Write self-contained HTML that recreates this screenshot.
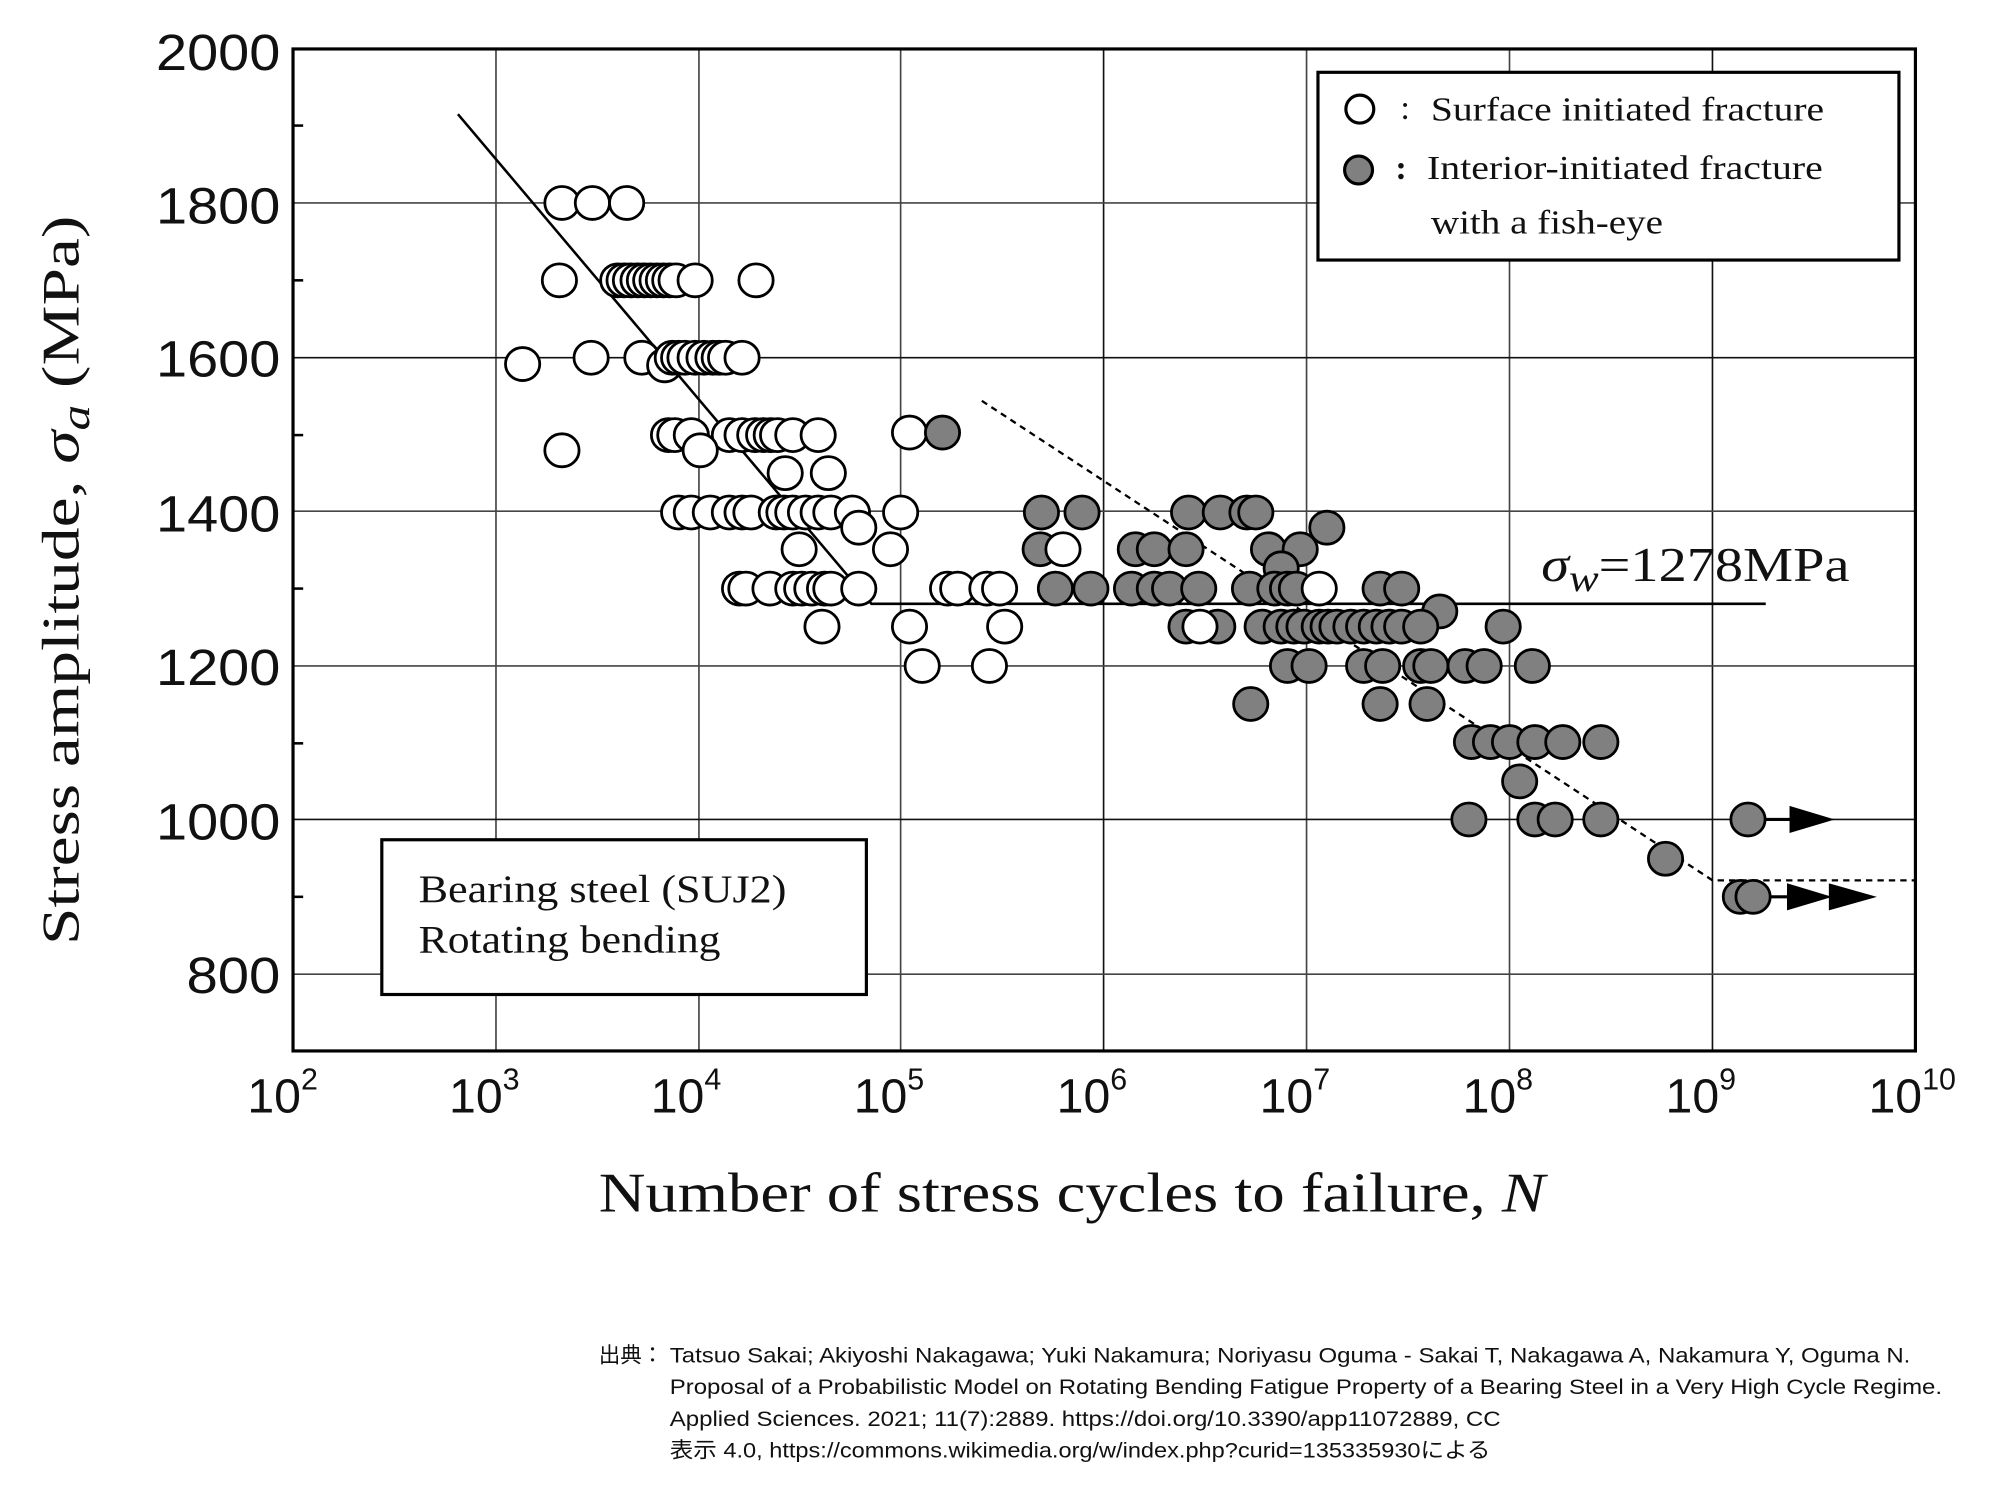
<!DOCTYPE html>
<html><head><meta charset="utf-8"><style>
html,body{margin:0;padding:0;background:#fff;width:1989px;height:1500px;overflow:hidden}
svg{display:block}
.s{font-family:"Liberation Serif",serif}
.a{font-family:"Liberation Sans",sans-serif}
</style></head><body>
<svg width="1989" height="1500" viewBox="0 0 1568 1182.5" xmlns="http://www.w3.org/2000/svg">
<g stroke="#444" stroke-width="1.3">
<line x1="391" y1="38.6" x2="391" y2="828.5"/><line x1="551" y1="38.6" x2="551" y2="828.5"/>
<line x1="710" y1="38.6" x2="710" y2="828.5"/><line x1="870" y1="38.6" x2="870" y2="828.5" stroke="#111"/>
<line x1="1030" y1="38.6" x2="1030" y2="828.5"/><line x1="1190" y1="38.6" x2="1190" y2="828.5"/>
<line x1="1350" y1="38.6" x2="1350" y2="828.5" stroke="#111"/>
<line x1="231" y1="160" x2="1510" y2="160"/><line x1="231" y1="282" x2="1510" y2="282" stroke="#111"/>
<line x1="231" y1="403" x2="1510" y2="403"/><line x1="231" y1="525" x2="1510" y2="525"/>
<line x1="231" y1="646" x2="1510" y2="646" stroke="#111"/><line x1="231" y1="768" x2="1510" y2="768"/>
</g>
<g stroke="#000" stroke-width="2">
<line x1="231" y1="99" x2="239" y2="99"/><line x1="231" y1="221" x2="239" y2="221"/><line x1="231" y1="343" x2="239" y2="343"/><line x1="231" y1="464" x2="239" y2="464"/><line x1="231" y1="586" x2="239" y2="586"/><line x1="231" y1="707" x2="239" y2="707"/>
</g>
<rect x="231" y="38.6" width="1279" height="789.9" fill="none" stroke="#000" stroke-width="2.5"/>
<polyline points="361,90 687,476 1392,476" fill="none" stroke="#000" stroke-width="2"/>
<polyline points="774,316 1350,694 1510,694" fill="none" stroke="#000" stroke-width="1.8" stroke-dasharray="5,4"/>
<g fill="#fff" stroke="#000" stroke-width="2.2">
<ellipse cx="443" cy="160" rx="13.5" ry="13"/><ellipse cx="467" cy="160" rx="13.5" ry="13"/><ellipse cx="494" cy="160" rx="13.5" ry="13"/>
<ellipse cx="441" cy="221" rx="13.5" ry="13"/>
<ellipse cx="487" cy="221" rx="13.5" ry="13"/><ellipse cx="492" cy="221" rx="13.5" ry="13"/><ellipse cx="497" cy="221" rx="13.5" ry="13"/><ellipse cx="503" cy="221" rx="13.5" ry="13"/><ellipse cx="508" cy="221" rx="13.5" ry="13"/><ellipse cx="513" cy="221" rx="13.5" ry="13"/><ellipse cx="518" cy="221" rx="13.5" ry="13"/><ellipse cx="523" cy="221" rx="13.5" ry="13"/><ellipse cx="528" cy="221" rx="13.5" ry="13"/><ellipse cx="533" cy="221" rx="13.5" ry="13"/><ellipse cx="548" cy="221" rx="13.5" ry="13"/>
<ellipse cx="596" cy="221" rx="13.5" ry="13"/>
<ellipse cx="412" cy="287" rx="13.5" ry="13"/><ellipse cx="466" cy="282" rx="13.5" ry="13"/><ellipse cx="506" cy="282" rx="13.5" ry="13"/><ellipse cx="524" cy="288" rx="13.5" ry="13"/>
<ellipse cx="530" cy="282" rx="13.5" ry="13"/><ellipse cx="535" cy="282" rx="13.5" ry="13"/><ellipse cx="540" cy="282" rx="13.5" ry="13"/><ellipse cx="548" cy="282" rx="13.5" ry="13"/><ellipse cx="555" cy="282" rx="13.5" ry="13"/><ellipse cx="562" cy="282" rx="13.5" ry="13"/><ellipse cx="567" cy="282" rx="13.5" ry="13"/><ellipse cx="572" cy="282" rx="13.5" ry="13"/><ellipse cx="585" cy="282" rx="13.5" ry="13"/>
<ellipse cx="527" cy="343" rx="13.5" ry="13"/><ellipse cx="532" cy="343" rx="13.5" ry="13"/><ellipse cx="545" cy="343" rx="13.5" ry="13"/><ellipse cx="575" cy="343" rx="13.5" ry="13"/><ellipse cx="585" cy="343" rx="13.5" ry="13"/><ellipse cx="595" cy="343" rx="13.5" ry="13"/><ellipse cx="602" cy="343" rx="13.5" ry="13"/><ellipse cx="608" cy="343" rx="13.5" ry="13"/><ellipse cx="613" cy="343" rx="13.5" ry="13"/><ellipse cx="625" cy="343" rx="13.5" ry="13"/><ellipse cx="645" cy="343" rx="13.5" ry="13"/><ellipse cx="717" cy="341" rx="13.5" ry="13"/>
<ellipse cx="443" cy="355" rx="13.5" ry="13"/><ellipse cx="552" cy="355" rx="13.5" ry="13"/>
<ellipse cx="619" cy="373" rx="13.5" ry="13"/><ellipse cx="653" cy="373" rx="13.5" ry="13"/>
<ellipse cx="535" cy="404" rx="13.5" ry="13"/><ellipse cx="545" cy="404" rx="13.5" ry="13"/><ellipse cx="560" cy="404" rx="13.5" ry="13"/><ellipse cx="575" cy="404" rx="13.5" ry="13"/><ellipse cx="585" cy="404" rx="13.5" ry="13"/><ellipse cx="592" cy="404" rx="13.5" ry="13"/><ellipse cx="612" cy="404" rx="13.5" ry="13"/><ellipse cx="618" cy="404" rx="13.5" ry="13"/><ellipse cx="625" cy="404" rx="13.5" ry="13"/><ellipse cx="635" cy="404" rx="13.5" ry="13"/><ellipse cx="645" cy="404" rx="13.5" ry="13"/><ellipse cx="655" cy="404" rx="13.5" ry="13"/><ellipse cx="672" cy="404" rx="13.5" ry="13"/><ellipse cx="710" cy="404" rx="13.5" ry="13"/>
<ellipse cx="677" cy="416" rx="13.5" ry="13"/>
<ellipse cx="630" cy="433" rx="13.5" ry="13"/><ellipse cx="702" cy="433" rx="13.5" ry="13"/>
<ellipse cx="583" cy="464" rx="13.5" ry="13"/><ellipse cx="588" cy="464" rx="13.5" ry="13"/><ellipse cx="607" cy="464" rx="13.5" ry="13"/><ellipse cx="625" cy="464" rx="13.5" ry="13"/><ellipse cx="632" cy="464" rx="13.5" ry="13"/><ellipse cx="640" cy="464" rx="13.5" ry="13"/><ellipse cx="650" cy="464" rx="13.5" ry="13"/><ellipse cx="655" cy="464" rx="13.5" ry="13"/><ellipse cx="677" cy="464" rx="13.5" ry="13"/>
<ellipse cx="648" cy="494" rx="13.5" ry="13"/><ellipse cx="717" cy="494" rx="13.5" ry="13"/>
<ellipse cx="727" cy="525" rx="13.5" ry="13"/><ellipse cx="780" cy="525" rx="13.5" ry="13"/>
</g>
<g fill="#808080" stroke="#000" stroke-width="2.2">
<ellipse cx="743" cy="341" rx="13.5" ry="13"/>
<ellipse cx="821" cy="404" rx="13.5" ry="13"/><ellipse cx="853" cy="404" rx="13.5" ry="13"/><ellipse cx="937" cy="404" rx="13.5" ry="13"/><ellipse cx="962" cy="404" rx="13.5" ry="13"/><ellipse cx="983" cy="404" rx="13.5" ry="13"/><ellipse cx="990" cy="404" rx="13.5" ry="13"/>
<ellipse cx="1046" cy="416" rx="13.5" ry="13"/>
<ellipse cx="820" cy="433" rx="13.5" ry="13"/><ellipse cx="895" cy="433" rx="13.5" ry="13"/><ellipse cx="910" cy="433" rx="13.5" ry="13"/><ellipse cx="935" cy="433" rx="13.5" ry="13"/><ellipse cx="1000" cy="433" rx="13.5" ry="13"/><ellipse cx="1025" cy="433" rx="13.5" ry="13"/>
<ellipse cx="1010" cy="448" rx="13.5" ry="13"/>
<ellipse cx="832" cy="464" rx="13.5" ry="13"/><ellipse cx="860" cy="464" rx="13.5" ry="13"/><ellipse cx="892" cy="464" rx="13.5" ry="13"/><ellipse cx="910" cy="464" rx="13.5" ry="13"/><ellipse cx="922" cy="464" rx="13.5" ry="13"/><ellipse cx="945" cy="464" rx="13.5" ry="13"/><ellipse cx="985" cy="464" rx="13.5" ry="13"/><ellipse cx="1005" cy="464" rx="13.5" ry="13"/><ellipse cx="1015" cy="464" rx="13.5" ry="13"/><ellipse cx="1022" cy="464" rx="13.5" ry="13"/><ellipse cx="1088" cy="464" rx="13.5" ry="13"/><ellipse cx="1105" cy="464" rx="13.5" ry="13"/>
<ellipse cx="1135" cy="482" rx="13.5" ry="13"/>
<ellipse cx="935" cy="494" rx="13.5" ry="13"/><ellipse cx="960" cy="494" rx="13.5" ry="13"/><ellipse cx="995" cy="494" rx="13.5" ry="13"/><ellipse cx="1010" cy="494" rx="13.5" ry="13"/><ellipse cx="1020" cy="494" rx="13.5" ry="13"/><ellipse cx="1028" cy="494" rx="13.5" ry="13"/><ellipse cx="1040" cy="494" rx="13.5" ry="13"/><ellipse cx="1047" cy="494" rx="13.5" ry="13"/><ellipse cx="1054" cy="494" rx="13.5" ry="13"/><ellipse cx="1065" cy="494" rx="13.5" ry="13"/><ellipse cx="1075" cy="494" rx="13.5" ry="13"/><ellipse cx="1085" cy="494" rx="13.5" ry="13"/><ellipse cx="1095" cy="494" rx="13.5" ry="13"/><ellipse cx="1105" cy="494" rx="13.5" ry="13"/><ellipse cx="1120" cy="494" rx="13.5" ry="13"/><ellipse cx="1185" cy="494" rx="13.5" ry="13"/>
<ellipse cx="1015" cy="525" rx="13.5" ry="13"/><ellipse cx="1032" cy="525" rx="13.5" ry="13"/><ellipse cx="1075" cy="525" rx="13.5" ry="13"/><ellipse cx="1090" cy="525" rx="13.5" ry="13"/><ellipse cx="1120" cy="525" rx="13.5" ry="13"/><ellipse cx="1128" cy="525" rx="13.5" ry="13"/><ellipse cx="1155" cy="525" rx="13.5" ry="13"/><ellipse cx="1170" cy="525" rx="13.5" ry="13"/><ellipse cx="1208" cy="525" rx="13.5" ry="13"/>
<ellipse cx="986" cy="555" rx="13.5" ry="13"/><ellipse cx="1088" cy="555" rx="13.5" ry="13"/><ellipse cx="1125" cy="555" rx="13.5" ry="13"/>
<ellipse cx="1160" cy="585" rx="13.5" ry="13"/><ellipse cx="1175" cy="585" rx="13.5" ry="13"/><ellipse cx="1190" cy="585" rx="13.5" ry="13"/><ellipse cx="1210" cy="585" rx="13.5" ry="13"/><ellipse cx="1232" cy="585" rx="13.5" ry="13"/><ellipse cx="1262" cy="585" rx="13.5" ry="13"/>
<ellipse cx="1198" cy="616" rx="13.5" ry="13"/>
<ellipse cx="1158" cy="646" rx="13.5" ry="13"/><ellipse cx="1210" cy="646" rx="13.5" ry="13"/><ellipse cx="1226" cy="646" rx="13.5" ry="13"/><ellipse cx="1262" cy="646" rx="13.5" ry="13"/><ellipse cx="1378" cy="646" rx="13.5" ry="13"/>
<ellipse cx="1313" cy="677" rx="13.5" ry="13"/>
<ellipse cx="1372" cy="707" rx="13.5" ry="13"/><ellipse cx="1382" cy="707" rx="13.5" ry="13"/>
</g>
<g fill="#fff" stroke="#000" stroke-width="2.2">
<ellipse cx="838" cy="433" rx="13.5" ry="13"/><ellipse cx="946" cy="494" rx="13.5" ry="13"/><ellipse cx="1040" cy="464" rx="13.5" ry="13"/><ellipse cx="747" cy="464" rx="13.5" ry="13"/><ellipse cx="755" cy="464" rx="13.5" ry="13"/><ellipse cx="778" cy="464" rx="13.5" ry="13"/><ellipse cx="788" cy="464" rx="13.5" ry="13"/><ellipse cx="792" cy="494" rx="13.5" ry="13"/>
</g>
<g stroke="#000" stroke-width="2.5" fill="#000">
<line x1="1392" y1="646" x2="1415" y2="646"/><polygon points="1412,637 1442,646 1412,655"/>
<line x1="1395" y1="707" x2="1420" y2="707"/><polygon points="1410,698 1440,707 1410,716"/><polygon points="1443,698 1475,707 1443,716"/>
</g>
<rect x="1039" y="57" width="458" height="148" fill="#fff" stroke="#000" stroke-width="2.5"/>
<ellipse cx="1072" cy="86" rx="11" ry="11" fill="#fff" stroke="#000" stroke-width="2.5"/>
<ellipse cx="1071" cy="134" rx="11" ry="11" fill="#808080" stroke="#000" stroke-width="2.5"/>
<g class="s" font-size="27" fill="#111">
<text x="1104" y="94">:</text><text x="1128" y="95" textLength="310" lengthAdjust="spacingAndGlyphs">Surface initiated fracture</text>
<text x="1100" y="141" font-weight="bold">:</text><text x="1125" y="141" textLength="312" lengthAdjust="spacingAndGlyphs">Interior-initiated fracture</text>
<text x="1128" y="184" textLength="183" lengthAdjust="spacingAndGlyphs">with a fish-eye</text>
</g>
<rect x="301" y="662" width="382" height="122" fill="#fff" stroke="#000" stroke-width="2.5"/>
<g class="s" font-size="31" fill="#111">
<text x="330" y="711" textLength="290" lengthAdjust="spacingAndGlyphs">Bearing  steel (SUJ2)</text>
<text x="330" y="751" textLength="238" lengthAdjust="spacingAndGlyphs">Rotating  bending</text>
</g>
<text class="s" x="1215" y="458" font-size="38" fill="#111" textLength="243" lengthAdjust="spacingAndGlyphs"><tspan font-style="italic">σ</tspan><tspan font-style="italic" font-size="30" dy="8">w</tspan><tspan dy="-8">=1278MPa</tspan></text>
<g class="a" font-size="40" fill="#111" text-anchor="end">
<text x="221" y="55" textLength="98" lengthAdjust="spacingAndGlyphs">2000</text><text x="221" y="176" textLength="98" lengthAdjust="spacingAndGlyphs">1800</text><text x="221" y="297" textLength="98" lengthAdjust="spacingAndGlyphs">1600</text><text x="221" y="419" textLength="98" lengthAdjust="spacingAndGlyphs">1400</text><text x="221" y="540" textLength="98" lengthAdjust="spacingAndGlyphs">1200</text><text x="221" y="662" textLength="98" lengthAdjust="spacingAndGlyphs">1000</text><text x="221" y="783" textLength="74" lengthAdjust="spacingAndGlyphs">800</text>
</g>
<g class="a" font-size="38" fill="#111">
<text x="195" y="877">10<tspan font-size="24" dy="-18">2</tspan></text>
<text x="354" y="877">10<tspan font-size="24" dy="-18">3</tspan></text>
<text x="513" y="877">10<tspan font-size="24" dy="-18">4</tspan></text>
<text x="673" y="877">10<tspan font-size="24" dy="-18">5</tspan></text>
<text x="833" y="877">10<tspan font-size="24" dy="-18">6</tspan></text>
<text x="993" y="877">10<tspan font-size="24" dy="-18">7</tspan></text>
<text x="1153" y="877">10<tspan font-size="24" dy="-18">8</tspan></text>
<text x="1313" y="877">10<tspan font-size="24" dy="-18">9</tspan></text>
<text x="1473" y="877">10<tspan font-size="24" dy="-18">10</tspan></text>
</g>
<text class="s" x="472" y="955" font-size="44" fill="#111" textLength="746" lengthAdjust="spacingAndGlyphs">Number of stress cycles to failure, <tspan font-style="italic">N</tspan></text>
<text class="s" transform="translate(62,745) rotate(-90)" font-size="42" fill="#111" textLength="575" lengthAdjust="spacingAndGlyphs">Stress amplitude,  <tspan font-style="italic">σ</tspan><tspan font-style="italic" font-size="32" dy="8">a</tspan><tspan dy="-8">  (MPa)</tspan></text>
<g font-family="'Liberation Sans','Noto Sans CJK JP',sans-serif" font-size="17" fill="#111">
<text x="472" y="1074">出典：</text>
<text x="528" y="1074" textLength="978" lengthAdjust="spacingAndGlyphs">Tatsuo Sakai; Akiyoshi Nakagawa; Yuki Nakamura; Noriyasu Oguma - Sakai T, Nakagawa A, Nakamura Y, Oguma N.</text>
<text x="528" y="1099" textLength="1003" lengthAdjust="spacingAndGlyphs">Proposal of a Probabilistic Model on Rotating Bending Fatigue Property of a Bearing Steel in a Very High Cycle Regime.</text>
<text x="528" y="1124" textLength="655" lengthAdjust="spacingAndGlyphs">Applied Sciences. 2021; 11(7):2889. https://doi.org/10.3390/app11072889, CC</text>
<text x="528" y="1149" textLength="647" lengthAdjust="spacingAndGlyphs">表示 4.0, https://commons.wikimedia.org/w/index.php?curid=135335930による</text>
</g>
</svg>
</body></html>
